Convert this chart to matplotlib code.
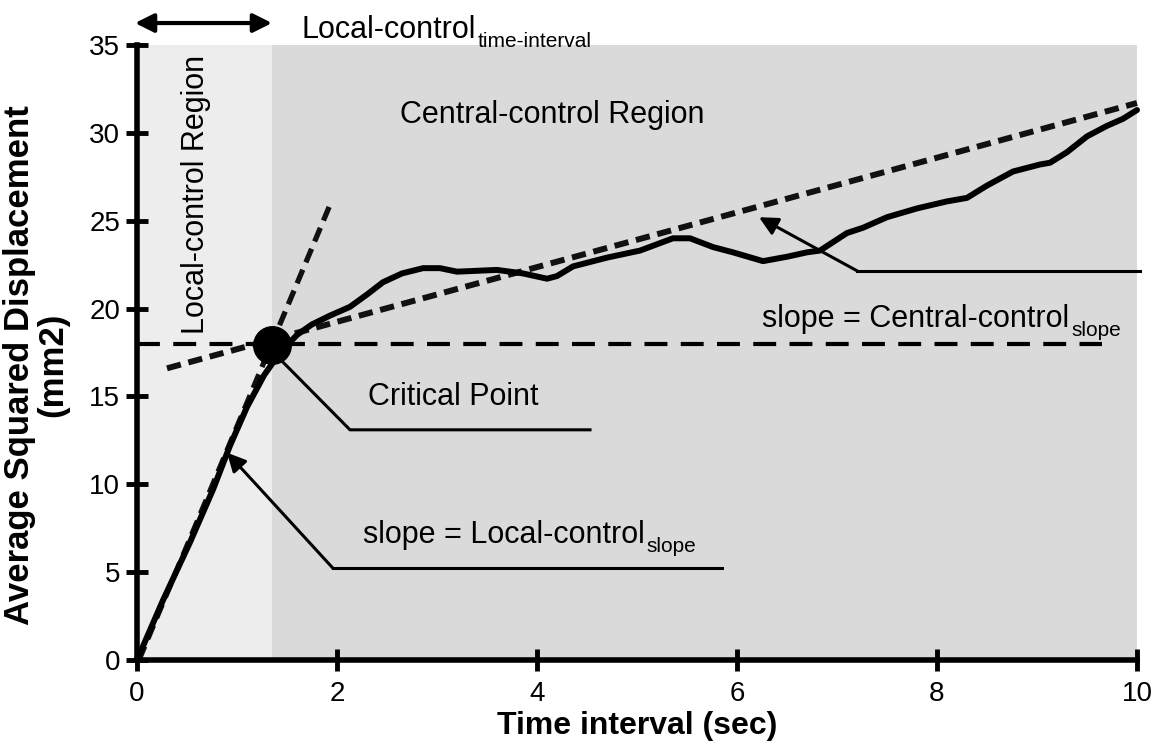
import numpy as np
import matplotlib
matplotlib.use("Agg")
import matplotlib.pyplot as plt

plt.rcParams["font.family"] = ["Liberation Sans", "DejaVu Sans"]

# ---- data ----
t_sec = [0.0, 0.26, 0.53, 0.76, 0.93, 1.10, 1.27, 1.43, 1.60, 1.75, 1.93, 2.13,
         2.30, 2.46, 2.65, 2.86, 3.03, 3.20, 3.60, 3.86, 4.10, 4.20, 4.36, 4.70,
         5.03, 5.36, 5.53, 5.76, 5.96, 6.26, 6.50, 6.70, 6.83, 7.10, 7.26, 7.50,
         7.80, 8.10, 8.30, 8.50, 8.76, 9.03, 9.13, 9.30, 9.50, 9.70, 9.86, 10.0]
msd = [0.0, 3.4, 6.7, 9.7, 12.2, 14.4, 16.2, 17.5, 18.5, 19.1, 19.6, 20.1,
       20.8, 21.5, 22.0, 22.3, 22.3, 22.1, 22.2, 22.0, 21.7, 21.85, 22.4, 22.9,
       23.3, 24.0, 24.0, 23.5, 23.2, 22.7, 22.95, 23.2, 23.3, 24.3, 24.6, 25.2,
       25.7, 26.1, 26.3, 27.0, 27.8, 28.2, 28.3, 28.9, 29.8, 30.4, 30.8, 31.3]

crit_x, crit_y = 1.35, 17.9
threshold_y = 18.0
threshold_x = [0.0, 9.65]

local_line_x = [0.02, 1.93]
local_line_y = [0.0, 25.9]
central_line_x = [0.30, 10.0]
central_line_y = [16.6, 31.7]

xticks = [0, 2, 4, 6, 8, 10]
yticks = [0, 5, 10, 15, 20, 25, 30, 35]

# ---- figure ----
fig = plt.figure(figsize=(11.52, 7.51), dpi=100)
ax = fig.add_axes([137 / 1152, 1 - 660 / 751, 1000 / 1152, 615 / 751])
ax.set_xlim(0, 10)
ax.set_ylim(0, 35)
ax.set_facecolor("white")

# shaded regions
ax.axvspan(0, crit_x, color="#ededed", zorder=0, lw=0)
ax.axvspan(crit_x, 10, color="#dadada", zorder=0, lw=0)

# reference lines
ax.plot(threshold_x, [threshold_y, threshold_y], color="black", lw=3.0,
        dashes=(5.5, 3.2), zorder=2, clip_on=False)
ax.plot(central_line_x, central_line_y, color="#111111", lw=4.3,
        dashes=(2.4, 1.3), zorder=2, clip_on=False)
ax.plot(local_line_x, local_line_y, color="#111111", lw=3.8,
        dashes=(2.8, 1.5), zorder=2, clip_on=False)

# the measured curve
ax.plot(t_sec, msd, color="black", lw=4.3, zorder=3, clip_on=False,
        solid_capstyle="round", solid_joinstyle="round")

# critical point
ax.plot([crit_x], [crit_y], "o", color="black", markersize=27, zorder=4)

# annotation leaders
arrow_kw = dict(arrowstyle="-|>", color="black", lw=2.2, mutation_scale=28,
                shrinkA=0, shrinkB=0)
ax.annotate("", xy=(6.22, 25.2), xytext=(7.2, 22.15), arrowprops=arrow_kw)
ax.plot([7.2, 10.03], [22.15, 22.15], color="black", lw=2.2, clip_on=False)

ax.annotate("", xy=(0.90, 11.8), xytext=(1.96, 5.22), arrowprops=arrow_kw)
ax.plot([1.96, 5.85], [5.22, 5.22], color="black", lw=2.2)

ax.plot([1.46, 2.13, 4.53], [16.95, 13.1, 13.1], color="black", lw=2.2, zorder=3)

# double arrow above the local-control region
ax.annotate("", xy=(-0.02, 36.25), xytext=(crit_x, 36.25), annotation_clip=False,
            arrowprops=dict(arrowstyle="<|-|>", color="black", lw=3,
                            mutation_scale=28, shrinkA=0, shrinkB=0))


def label_with_sub(x, y, main, sub, size=22, subsize=15):
    t = ax.text(x, y, main, fontsize=size, va="baseline", ha="left")
    ax.annotate(sub, xy=(1, 0), xycoords=t, xytext=(1, -1.5),
                textcoords="offset points", fontsize=subsize,
                va="baseline", ha="left", annotation_clip=False)


label_with_sub(1.645, 35.4, "Local-control", "time-interval")
label_with_sub(6.255, 18.95, "slope = Central-control", "slope")
label_with_sub(2.26, 6.66, "slope = Local-control", "slope")

ax.text(2.63, 30.55, "Central-control Region", fontsize=22, va="baseline")
ax.text(2.31, 14.5, "Critical Point", fontsize=22, va="baseline")
ax.text(0.59, 26.5, "Local-control Region", fontsize=22, rotation=90,
        va="center", ha="center")

# axes styling
for side in ["top", "right"]:
    ax.spines[side].set_visible(False)
for side in ["left", "bottom"]:
    ax.spines[side].set_linewidth(4)
ax.set_xticks(xticks)
ax.set_yticks(yticks)
ax.tick_params(direction="inout", length=16, width=3.5, labelsize=20)
ax.tick_params(axis="x", pad=7)
ax.tick_params(axis="y", pad=4)

ax.set_xlabel("Time interval (sec)", fontsize=23, fontweight="bold", labelpad=3)
ax.set_ylabel("Average Squared Displacement\n(mm2)", fontsize=25,
              fontweight="bold", linespacing=1.0)
ax.yaxis.set_label_coords(-0.068, 0.48)

fig.savefig("out.png", dpi=100)
